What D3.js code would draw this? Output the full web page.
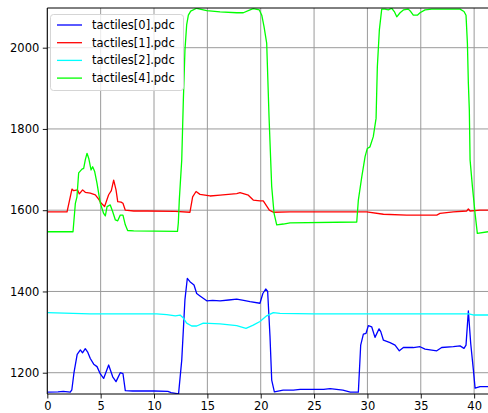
<!DOCTYPE html>
<html>
<head>
<meta charset="utf-8">
<script src="https://cdn.jsdelivr.net/npm/d3@7"></script>
<style>
body{margin:0;background:#fff;}
svg{display:block;font-family:"DejaVu Sans",sans-serif;}
</style>
</head>
<body>
<script>
// series values, [time, value]
let tact0=[[0,1152],[1,1153],[1.5,1154],[2.15,1152],[2.3,1158],[2.5,1200],[2.8,1245],[3.1,1256],[3.3,1249],[3.56,1259],[3.8,1250],[4.03,1235],[4.35,1221],[4.66,1215],[4.97,1197],[5.28,1186],[5.75,1219],[6.13,1190],[6.44,1178],[6.84,1200],[7.09,1198],[7.31,1156],[8,1155],[9,1155],[10,1155],[11.3,1154],[11.6,1151],[12.3,1148],[12.6,1231],[12.9,1380],[13.12,1432],[13.37,1424],[13.75,1416],[14.0,1395],[14.31,1389],[14.94,1377],[15.5,1378],[16.19,1377],[17,1379],[17.75,1381],[18.4,1378],[19.0,1375],[19.93,1371],[20.2,1395],[20.47,1406],[20.65,1400],[20.87,1289],[21.03,1182],[21.28,1153],[22.1,1157],[23.06,1157],[23.7,1159],[25.9,1159],[26.5,1161],[27.7,1157],[28.4,1152],[29.15,1152],[29.37,1268],[29.62,1295],[29.87,1297],[30.09,1316],[30.4,1313],[30.71,1287],[31.09,1308],[31.25,1301],[31.5,1280],[32.12,1274],[32.59,1268],[32.99,1254],[33.37,1262],[34.3,1262],[34.93,1264],[35.4,1258],[36.5,1254],[36.96,1262],[38.05,1264],[38.68,1266],[39.05,1260],[39.24,1268],[39.46,1352],[39.68,1272],[39.93,1207],[40.09,1162],[40.55,1166],[41.3,1166]];

let tact1=[[0,1596],[1.85,1596],[2.31,1652],[2.47,1648],[2.84,1650],[3.0,1640],[3.31,1650],[3.56,1644],[4.03,1642],[4.5,1638],[4.81,1627],[5.06,1617],[5.37,1609],[5.75,1638],[6.0,1648],[6.22,1674],[6.44,1650],[6.6,1621],[6.91,1620],[7.09,1617],[7.31,1600],[8.1,1598],[9.35,1598],[12,1597],[13.37,1595],[13.62,1633],[13.94,1646],[14.31,1639],[15.25,1635],[16.19,1637],[17.75,1641],[18.06,1643],[18.84,1637],[19.3,1625],[19.93,1623],[20.24,1623],[20.81,1600],[21.18,1595],[22.75,1596],[26,1596],[29.93,1596],[31.5,1590],[33.68,1588],[36.5,1588],[36.8,1592],[38.05,1596],[39.3,1598],[39.46,1603],[39.62,1598],[40.55,1600],[41.3,1600]];

let tact2=[[0,1348],[4,1345],[10.25,1345],[11.2,1343],[12,1340],[12.44,1342],[12.7,1336],[13.06,1322],[13.53,1315],[14.0,1315],[14.62,1322],[16.19,1320],[17.75,1316],[18.62,1309],[19.3,1317],[19.93,1326],[20.56,1340],[21.18,1348],[21.8,1346],[25,1345],[30,1345],[35,1345],[39.5,1345],[40,1342],[41.3,1342]];

let tact4=[[0,1547],[2.41,1547],[2.63,1617],[2.78,1633],[2.94,1692],[3.25,1701],[3.41,1703],[3.56,1724],[3.72,1740],[3.88,1728],[4.1,1699],[4.25,1707],[4.44,1695],[4.66,1666],[4.81,1642],[4.97,1617],[5.28,1592],[5.44,1586],[5.6,1609],[5.9,1613],[6.13,1596],[6.38,1576],[6.6,1574],[6.84,1588],[7.09,1588],[7.31,1564],[7.53,1550],[8.1,1549],[12.2,1548],[12.28,1569],[12.37,1625],[12.6,1724],[12.75,1871],[12.9,1994],[13.06,2056],[13.22,2080],[13.44,2090],[14.0,2097],[14.31,2095],[14.94,2091],[16.19,2088],[17.75,2086],[18.37,2086],[19.0,2093],[19.3,2096],[19.87,2093],[20.1,2080],[20.31,2052],[20.56,2011],[20.78,1830],[21.03,1658],[21.25,1592],[21.5,1564],[22.12,1566],[22.75,1569],[29.0,1571],[29.15,1625],[29.47,1682],[29.78,1732],[29.99,1752],[30.24,1756],[30.55,1781],[30.81,1826],[30.93,1953],[31.12,2044],[31.34,2095],[31.65,2095],[31.96,2093],[32.28,2097],[32.52,2089],[32.75,2076],[33.06,2086],[33.37,2093],[33.83,2095],[34.06,2089],[34.3,2080],[34.68,2080],[34.93,2086],[35.4,2093],[36.03,2095],[37.1,2095],[38.68,2095],[39.05,2089],[39.24,2080],[39.37,2011],[39.46,1912],[39.55,1847],[39.62,1724],[39.84,1658],[40.09,1592],[40.3,1543],[41.3,1547]];

let names=["tactiles[0].pdc","tactiles[1].pdc","tactiles[2].pdc","tactiles[4].pdc"];
let cols=["#0000ff","#ff0000","#00ffff","#00ff00"];
let xTicks=[0,5,10,15,20,25,30,35,40];
let yTicks=[1200,1400,1600,1800,2000];

let w=488,h=413;
let padL=47.3,padR=488,padT=8,padB=394;

let svg=d3.select("body").append("svg").attr("width",w).attr("height",h);

let x=d3.scaleLinear().domain([0,41.3]).range([padL,padR]);
let y=d3.scaleLinear().domain([1147.6,2097.7]).range([padB,padT]);

svg.append("defs").append("clipPath").attr("id","clip")
  .append("rect").attr("x",padL).attr("y",padT).attr("width",padR-padL).attr("height",padB-padT);

// grid
let grid=svg.append("g");
grid.selectAll(".gx").data(xTicks).enter().append("line")
  .attr("x1",d=>x(d)).attr("x2",d=>x(d)).attr("y1",padT).attr("y2",padB)
  .attr("stroke","#9a9a9a").attr("stroke-width",1);
grid.selectAll(".gy").data(yTicks).enter().append("line")
  .attr("x1",padL).attr("x2",padR).attr("y1",d=>y(d)).attr("y2",d=>y(d))
  .attr("stroke","#9a9a9a").attr("stroke-width",1);

// lines
let line=d3.line().x(d=>x(d[0])).y(d=>y(d[1]));
let series=[tact0,tact1,tact2,tact4];
let plot=svg.append("g").attr("clip-path","url(#clip)");
series.forEach((s,i)=>{
  plot.append("path").datum(s).attr("d",line).attr("fill","none")
    .attr("stroke",cols[i]).attr("stroke-width",1.3).attr("stroke-linejoin","round");
});

// axes
let xAxis=d3.axisBottom(x).tickValues(xTicks).tickSize(4.5).tickPadding(3.5).tickFormat(d3.format("d"));
let yAxis=d3.axisLeft(y).tickValues(yTicks).tickSize(4.5).tickPadding(3.5).tickFormat(d3.format("d"));
let gx=svg.append("g").attr("transform","translate(0,"+padB+")").call(xAxis);
let gy=svg.append("g").attr("transform","translate("+padL+",0)").call(yAxis);
[gx,gy].forEach(g=>{
  g.select(".domain").remove();
  g.selectAll("text").style("font","11.5px 'DejaVu Sans'").attr("fill","#000");
  g.selectAll("line").attr("stroke","#000").attr("stroke-width",0.9);
});

// spines
svg.append("line").attr("x1",padL).attr("x2",padL).attr("y1",padT).attr("y2",padB).attr("stroke","#000").attr("stroke-width",1);
svg.append("line").attr("x1",padL).attr("x2",padR).attr("y1",padB).attr("y2",padB).attr("stroke","#000").attr("stroke-width",1);
svg.append("line").attr("x1",padL).attr("x2",padR).attr("y1",padT).attr("y2",padT).attr("stroke","#000").attr("stroke-width",1);

// legend
let leg=svg.append("g");
leg.append("rect").attr("x",50.5).attr("y",14.5).attr("width",133).attr("height",76).attr("rx",3)
  .attr("fill","#fff").attr("fill-opacity",0.8).attr("stroke","#d5d5d5");
names.forEach((n,i)=>{
  let cy=25+i*17.7;
  leg.append("line").attr("x1",57).attr("x2",82).attr("y1",cy).attr("y2",cy)
    .attr("stroke",cols[i]).attr("stroke-width",1.3);
  leg.append("text").attr("x",92).attr("y",cy+4).text(n)
    .style("font","11.5px 'DejaVu Sans'").attr("fill","#000");
});
</script>
</body>
</html>
